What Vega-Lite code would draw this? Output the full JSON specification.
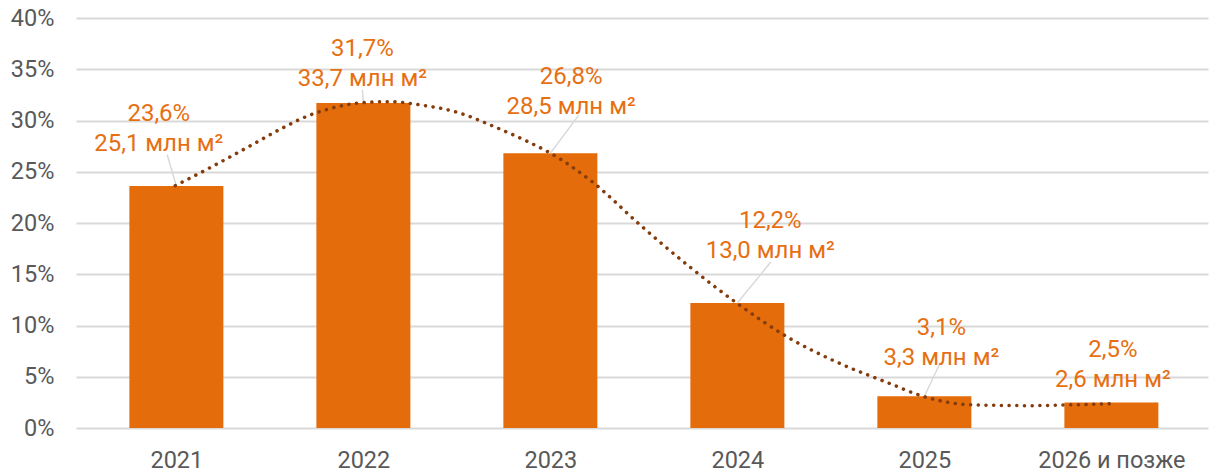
{
  "$schema": "https://vega.github.io/schema/vega-lite/v6.json",
  "width": 1132,
  "height": 410,
  "autosize": {"type": "none"},
  "padding": {"left": 76, "top": 18, "right": 3, "bottom": 44},
  "background": "white",
  "config": {
    "view": {"stroke": null},
    "font": "Roboto",
    "axis": {"labelFont": "Roboto", "labelColor": "#595959", "labelFontSize": 23.5}
  },
  "datasets": {
    "bars": [
      {"i": 1, "year": "2021", "pct": 23.6, "area": 25.1},
      {"i": 2, "year": "2022", "pct": 31.7, "area": 33.7},
      {"i": 3, "year": "2023", "pct": 26.8, "area": 28.5},
      {"i": 4, "year": "2024", "pct": 12.2, "area": 13.0},
      {"i": 5, "year": "2025", "pct": 3.1, "area": 3.3},
      {"i": 6, "year": "2026 и позже", "pct": 2.5, "area": 2.6}
    ],
    "labels": [
      {"lx": 0.906, "ly": 26.98, "pctText": "23,6%", "areaText": "25,1 млн м²"},
      {"lx": 1.995, "ly": 33.33, "pctText": "31,7%", "areaText": "33,7 млн м²"},
      {"lx": 3.111, "ly": 30.6, "pctText": "26,8%", "areaText": "28,5 млн м²"},
      {"lx": 4.176, "ly": 16.59, "pctText": "12,2%", "areaText": "13,0 млн м²"},
      {"lx": 5.091, "ly": 6.18, "pctText": "3,1%", "areaText": "3,3 млн м²"},
      {"lx": 6.008, "ly": 4.0, "pctText": "2,5%", "areaText": "2,6 млн м²"}
    ],
    "leaders": [
      {"x1": 0.951, "y1": 26.66, "x2": 1.0, "y2": 23.6},
      {"x1": 1.995, "y1": 33.0, "x2": 2.0, "y2": 31.7},
      {"x1": 3.151, "y1": 30.5, "x2": 3.0, "y2": 26.8},
      {"x1": 4.179, "y1": 16.2, "x2": 4.0, "y2": 12.2},
      {"x1": 5.085, "y1": 6.37, "x2": 5.0, "y2": 3.1}
    ],
    "trend": [
      {"t": 0.994, "v": 23.64},
      {"t": 1.19, "v": 25.49},
      {"t": 1.386, "v": 27.44},
      {"t": 1.571, "v": 29.3},
      {"t": 1.693, "v": 30.37},
      {"t": 1.82, "v": 31.15},
      {"t": 1.995, "v": 31.74},
      {"t": 2.138, "v": 31.84},
      {"t": 2.297, "v": 31.54},
      {"t": 2.509, "v": 30.76},
      {"t": 2.7, "v": 29.4},
      {"t": 2.88, "v": 27.93},
      {"t": 2.986, "v": 26.96},
      {"t": 3.23, "v": 23.93},
      {"t": 3.479, "v": 19.83},
      {"t": 3.744, "v": 15.74},
      {"t": 4.009, "v": 12.03},
      {"t": 4.274, "v": 8.81},
      {"t": 4.539, "v": 6.37},
      {"t": 4.804, "v": 4.42},
      {"t": 5.0, "v": 3.05},
      {"t": 5.244, "v": 2.27},
      {"t": 5.562, "v": 2.18},
      {"t": 5.81, "v": 2.27},
      {"t": 5.997, "v": 2.37}
    ]
  },
  "layer": [
    {
      "data": {"name": "bars"},
      "mark": {"type": "bar", "color": "#E46C0A", "size": 94, "orient": "vertical"},
      "encoding": {
        "x": {
          "field": "i", "type": "quantitative",
          "scale": {"domain": [0.49, 6.49], "nice": false, "zero": false},
          "axis": {
            "title": null, "values": [1, 2, 3, 4, 5, 6], "grid": false, "ticks": false, "domain": false,
            "labelPadding": 20,
            "labelExpr": "['2021','2022','2023','2024','2025','2026 и позже'][datum.value - 1]"
          }
        },
        "y": {
          "field": "pct", "type": "quantitative",
          "scale": {"domain": [0, 40], "nice": false},
          "axis": {
            "title": null, "values": [0, 5, 10, 15, 20, 25, 30, 35, 40],
            "labelExpr": "datum.value + '%'", "ticks": false, "domain": false,
            "gridColor": "#D9D9D9", "gridWidth": 2, "labelPadding": 22
          }
        }
      }
    },
    {
      "data": {"name": "leaders"},
      "mark": {"type": "rule", "color": "#D9D9D9", "strokeWidth": 1.5},
      "encoding": {
        "x": {"field": "x1", "type": "quantitative"},
        "y": {"field": "y1", "type": "quantitative"},
        "x2": {"field": "x2"},
        "y2": {"field": "y2"}
      }
    },
    {
      "data": {"name": "trend"},
      "mark": {"type": "line", "color": "#843C0C", "strokeWidth": 3.5, "strokeCap": "round", "strokeDash": [0.1, 7.6], "interpolate": "monotone"},
      "encoding": {
        "x": {"field": "t", "type": "quantitative"},
        "y": {"field": "v", "type": "quantitative"}
      }
    },
    {
      "data": {"name": "labels"},
      "mark": {"type": "text", "color": "#E66F12", "fontSize": 24, "font": "Roboto", "align": "center", "baseline": "alphabetic", "dy": -30},
      "encoding": {
        "x": {"field": "lx", "type": "quantitative"},
        "y": {"field": "ly", "type": "quantitative"},
        "text": {"field": "pctText"}
      }
    },
    {
      "data": {"name": "labels"},
      "mark": {"type": "text", "color": "#E66F12", "fontSize": 24, "font": "Roboto", "align": "center", "baseline": "alphabetic"},
      "encoding": {
        "x": {"field": "lx", "type": "quantitative"},
        "y": {"field": "ly", "type": "quantitative"},
        "text": {"field": "areaText"}
      }
    }
  ]
}
